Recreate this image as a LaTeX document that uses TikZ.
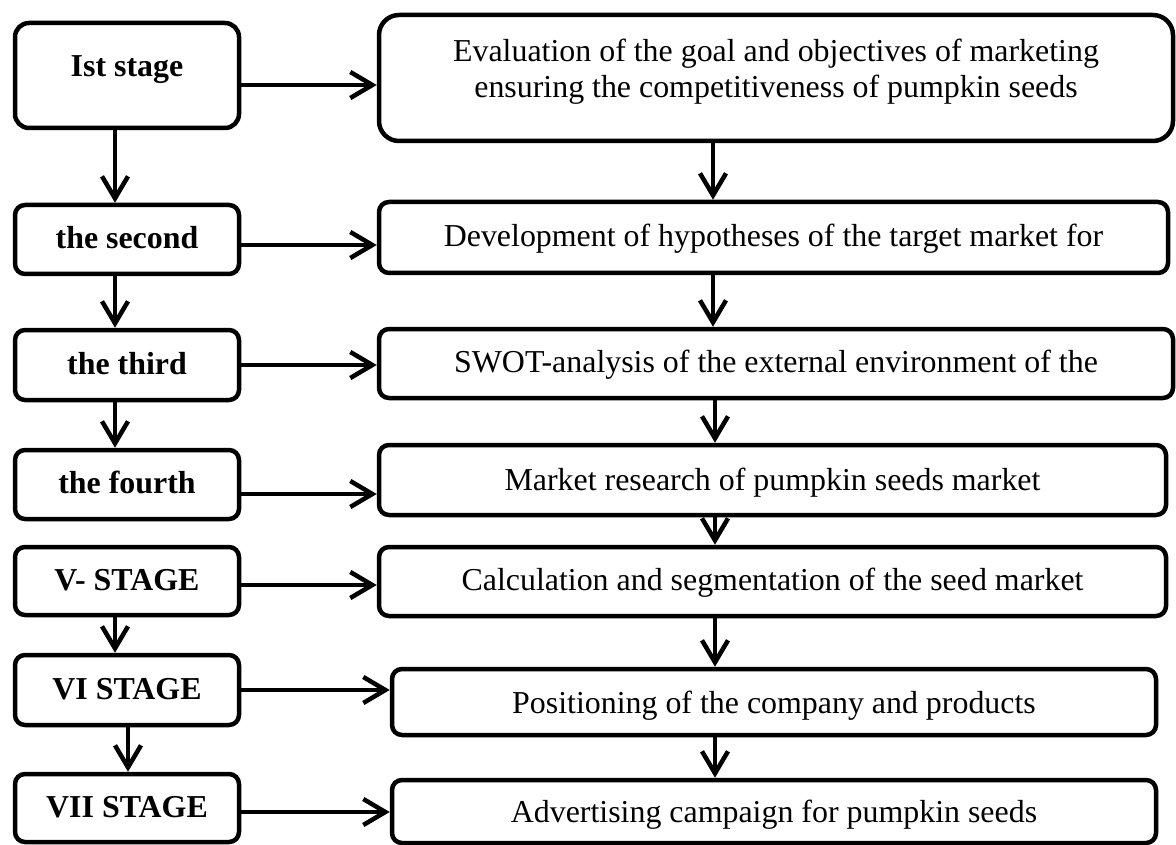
\documentclass[tikz,border=0pt]{standalone}
\usepackage{fontspec}
\setmainfont{Liberation Serif}
\usetikzlibrary{arrows.meta}
\begin{document}
\begin{tikzpicture}[x=1pt,y=-1pt,
  stage/.style={draw, line width=4.5pt, rounded corners=10pt, minimum width=224pt,
    inner sep=0pt, font=\fontsize{31.9}{36}\selectfont\bfseries,
    text height=22pt, text depth=4pt},
  task/.style={draw, line width=4.5pt, rounded corners=10pt, inner sep=0pt,
    font=\fontsize{31.9}{36}\selectfont, text height=22pt, text depth=4pt},
  flow/.style={line width=4.5pt,
    -{Straight Barb[length=22pt,width=26pt,line width=4.5pt]}}]
\useasboundingbox (0,0) rectangle (1176,845);

% stage boxes (left column)
\node[stage, rounded corners=14pt, minimum height=105pt, text depth=19pt] (L1) at (127,75.5) {Ist stage};
\node[stage, minimum height=69pt] (L2) at (127,239.5) {the second};
\node[stage, minimum height=70pt] (L3) at (127,365) {the third};
\node[stage, minimum height=69pt] (L4) at (127,484.5) {the fourth};
\node[stage, minimum height=68pt] (L5) at (127,581) {V- STAGE};
\node[stage, minimum height=70pt] (L6) at (127,690) {VI STAGE};
\node[stage, minimum height=68pt] (L7) at (127,808) {VII STAGE};

% task boxes (right column)
\node[task, rounded corners=20pt, minimum width=794pt, minimum height=126pt,
  align=center, text height=58pt, text depth=18pt] (R1) at (776,78)
  {Evaluation of the goal and objectives of marketing\\ensuring the competitiveness of pumpkin seeds};
\node[task, minimum width=789pt, minimum height=71pt, text depth=3pt] (R2) at (773.5,237.5)
  {Development of hypotheses of the target market for};
\node[task, minimum width=794pt, minimum height=69pt, text depth=5pt] (R3) at (776,363.5)
  {SWOT-analysis of the external environment of the};
\node[task, minimum width=787pt, minimum height=70pt, text depth=2pt] (R4) at (772.5,480)
  {Market research of pumpkin seeds market};
\node[task, minimum width=787pt, minimum height=69pt, text depth=5pt] (R5) at (772.5,581.5)
  {Calculation and segmentation of the seed market};
\node[task, minimum width=764pt, minimum height=66pt, text depth=0pt] (R6) at (774,702)
  {Positioning of the company and products};
\node[task, minimum width=764pt, minimum height=63pt, text depth=1pt] (R7) at (774,811.5)
  {Advertising campaign for pumpkin seeds};

% stage -> task
\draw[flow] (L1.east) ++(0,9.5) coordinate (h1) -- (h1 -| R1.west);
\draw[flow] (L2.east) ++(0,5.5) coordinate (h2) -- (h2 -| R2.west);
\draw[flow] (L3.east) coordinate (h3) -- (h3 -| R3.west);
\draw[flow] (L4.east) ++(0,9.5) coordinate (h4) -- (h4 -| R4.west);
\draw[flow] (L5.east) ++(0,4) coordinate (h5) -- (h5 -| R5.west);
\draw[flow] (L6.east) coordinate (h6) -- (h6 -| R6.west);
\draw[flow] (L7.east) ++(0,4) coordinate (h7) -- (h7 -| R7.west);

% stage -> next stage
\draw[flow] (L1.south) ++(-12,0) coordinate (a1) -- (a1 |- L2.north);
\draw[flow] (L2.south) ++(-12,0) coordinate (a2) -- (a2 |- L3.north);
\draw[flow] (L3.south) ++(-12,0) coordinate (a3) -- (a3 |- L4.north);
\draw[flow] (L5.south) ++(-12,0) coordinate (a5) -- (a5 |- L6.north);
\draw[flow] (L6.south) ++(1,0) coordinate (a6) -- (a6 |- L7.north);

% task -> next task
\draw[flow] (R1.south) ++(-63,0) coordinate (b1) -- (b1 |- R2.north);
\draw[flow] (R2.south) ++(-60.5,0) coordinate (b2) -- (b2 |- R3.north);
\draw[flow] (R3.south) ++(-61,0) coordinate (b3) -- (b3 |- R4.north);
\draw[flow] (R4.south) ++(-57.5,0) coordinate (b4) -- (b4 |- R5.north);
\draw[flow] (R5.south) ++(-57.5,0) coordinate (b5) -- (b5 |- R6.north);
\draw[flow] (R6.south) ++(-59,0) coordinate (b6) -- (b6 |- R7.north);
\end{tikzpicture}
\end{document}
